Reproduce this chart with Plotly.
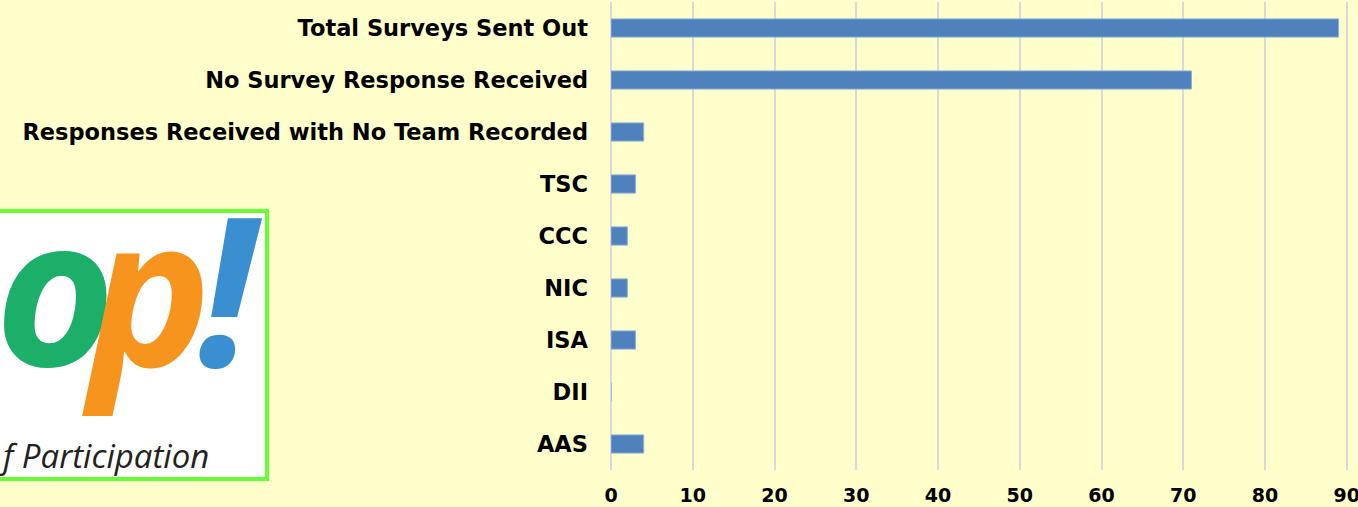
import plotly.graph_objects as go

categories = ["Total Surveys Sent Out", "No Survey Response Received",
              "Responses Received with No Team Recorded", "TSC", "CCC",
              "NIC", "ISA", "DII", "AAS"]
values = [89, 71, 4, 3, 2, 2, 3, 0, 4]
x_ticks = [0, 10, 20, 30, 40, 50, 60, 70, 80, 90]

W, H = 1358, 507
L, R, T, B = 611, 10, 2, 37
PW = W - L - R
PH = H - T - B


def px(x):
    return (x - L) / PW


def py(y):
    return (H - B - y) / PH


LABEL_FONT = "DejaVu Sans, Arial, sans-serif"

fig = go.Figure(go.Bar(
    y=categories, x=values, orientation="h", width=0.35,
    marker=dict(color="#4F81BD", line=dict(color="#8DB0DA", width=1)),
))

fig.update_layout(
    width=W, height=H,
    margin=dict(l=L, r=R, t=T, b=B, pad=0, autoexpand=False),
    paper_bgcolor="#FFFFCC", plot_bgcolor="#FFFFCC",
    showlegend=False,
    font=dict(family=LABEL_FONT, color="#000000"),
)
fig.update_xaxes(
    range=[0, 90.15], tickvals=x_ticks, showgrid=True, gridcolor="#D9D9D9",
    gridwidth=1.5, zeroline=True, zerolinecolor="#D9D9D9", zerolinewidth=1.5,
    tickfont=dict(size=19, family=LABEL_FONT, weight="bold"),
    ticks="", ticklabelstandoff=12, showline=False, ticklabeloverflow="allow",
    automargin=False,
)
fig.update_yaxes(
    autorange="reversed", categoryorder="array", categoryarray=categories,
    tickfont=dict(size=22.5, family=LABEL_FONT, weight="bold"),
    ticks="", ticklabelstandoff=22, showgrid=False, showline=False,
    automargin=False,
)

# logo box
fig.add_shape(type="rect", xref="paper", yref="paper",
              x0=px(-10), x1=px(267), y0=py(479), y1=py(211),
              fillcolor="#FFFFFF", line=dict(color="#66FF33", width=4))

LOGO_FONT = "Open Sans, sans-serif"
for ch, cx, col in [("o", 55, "#1BAF6A"), ("p", 147, "#F7941D"), ("!", 230, "#3A8FD0")]:
    fig.add_annotation(
        xref="paper", yref="paper", x=px(cx), y=py(428),
        xanchor="center", yanchor="bottom", text=ch, showarrow=False,
        font=dict(family=LOGO_FONT, size=206, weight="bold", style="italic", color=col),
    )
fig.add_annotation(
    xref="paper", yref="paper", x=px(-3), y=py(455), xanchor="left", yanchor="middle",
    text="f Participation", showarrow=False,
    font=dict(family=LOGO_FONT, size=33, style="italic", color="#222222"),
)

fig.write_html("out.html", config={"displayModeBar": False},
               post_script="document.body.style.margin='0';document.body.style.background='#FFFFCC';")
